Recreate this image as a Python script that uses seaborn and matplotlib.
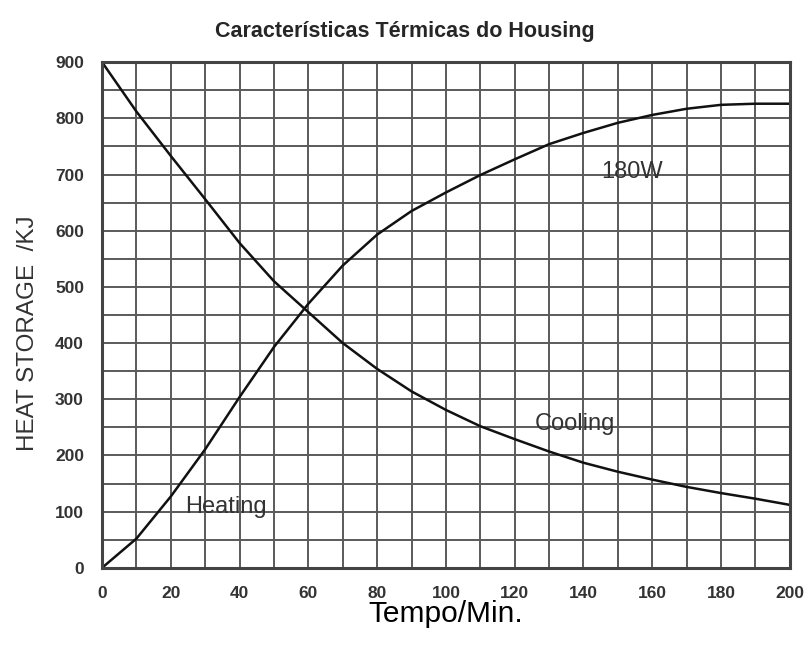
import matplotlib
matplotlib.use("Agg")
import matplotlib.pyplot as plt
from matplotlib.ticker import MultipleLocator
import pandas as pd
import seaborn as sns

# Tempo (min) and heat storage (kJ)
tempo = [0, 10, 20, 30, 40, 50, 60, 70, 80, 90, 100,
         110, 120, 130, 140, 150, 160, 170, 180, 190, 200]
heating = [0, 52, 127, 211, 304, 393, 470, 538, 593, 635, 668,
           699, 727, 754, 774, 792, 806, 817, 824, 826, 826]
cooling = [900, 812, 733, 656, 578, 510, 455, 400, 354, 314, 281,
           252, 229, 207, 187, 171, 157, 144, 133, 123, 112]

curve_labels = ["Heating", "Cooling", "180W"]
label_pos = [(36, 108), (137.5, 256), (154, 705)]

df = pd.DataFrame({"tempo": tempo, "Heating": heating, "Cooling": cooling})

sns.set_style("white")
plt.rcParams["font.family"] = ["Liberation Sans", "DejaVu Sans"]

fig = plt.figure(figsize=(8.1, 6.61), dpi=100)
ax = fig.add_axes([0.126, 0.141, 0.849, 0.765])

# grid every 10 min / 50 kJ
ax.xaxis.set_major_locator(MultipleLocator(20))
ax.xaxis.set_minor_locator(MultipleLocator(10))
ax.yaxis.set_major_locator(MultipleLocator(100))
ax.yaxis.set_minor_locator(MultipleLocator(50))
ax.grid(which="both", color="#5a5a5a", linewidth=1.4, zorder=0)
ax.set_axisbelow(True)

sns.lineplot(data=df, x="tempo", y="Heating", color="#111111", linewidth=1.8, ax=ax)
sns.lineplot(data=df, x="tempo", y="Cooling", color="#111111", linewidth=1.8, ax=ax)

ax.set_xlim(0, 200)
ax.set_ylim(0, 900)

for s in ax.spines.values():
    s.set_color("#444444")
    s.set_linewidth(2.2)

ax.tick_params(which="major", direction="out", length=6, width=2, color="#333333",
               labelsize=12.5, labelcolor="#333333", pad=7)
ax.tick_params(which="minor", direction="out", length=5, width=2, color="#333333")
for lbl in ax.get_xticklabels() + ax.get_yticklabels():
    lbl.set_fontweight("bold")

for txt, (x, y) in zip(curve_labels, label_pos):
    ax.text(x, y, txt, fontsize=17, color="#333333", ha="center", va="center")

ax.set_xlabel("Tempo/Min.", fontsize=21.5, color="black")
ax.xaxis.set_label_coords(0.5, -0.064)
ax.set_ylabel("HEAT STORAGE  /KJ", fontsize=17.5, color="#333333")
ax.yaxis.set_label_coords(-0.092, 0.464)
fig.text(0.5, 0.953, "Características Térmicas do Housing", fontsize=15.5,
         fontweight="bold", ha="center", va="center")

fig.savefig("out.png", dpi=100)
